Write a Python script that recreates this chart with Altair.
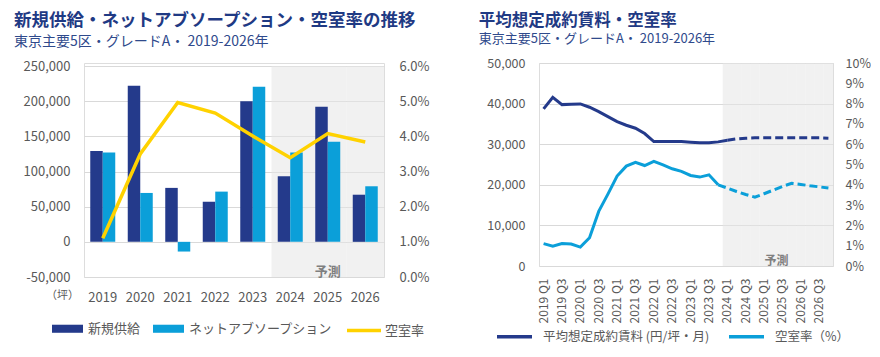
import altair as alt
import pandas as pd

FONT = "Noto Sans CJK JP"
NAVY = "#243a8b"
BLUE = "#0b9fd9"
YELLOW = "#ffd200"
LABEL = "#595959"
TITLE_C = "#1f3a84"
SUB_C = "#2f4a8c"
FC_FILL = "#e5e5e5"

# ---------------- left chart data ----------------
years = ["2019", "2020", "2021", "2022", "2023", "2024", "2025", "2026"]
supply = [129000, 222000, 76700, 57000, 200000, 93300, 192000, 67000]
absorption = [127000, 69500, -13800, 71400, 220500, 127000, 142400, 79000]
vacancy_year = [1.1, 3.5, 4.96, 4.66, 4.01, 3.39, 4.08, 3.84]
forecast_years = ["2024", "2025", "2026"]
left_series = ["新規供給", "ネットアブソープション", "空室率"]
left_ticks = [-50000, 0, 50000, 100000, 150000, 200000, 250000]
left_pct_ticks = [0, 1, 2, 3, 4, 5, 6]

# ---------------- right chart data ----------------
quarters = [f"{y} Q{q}" for y in years for q in (1, 2, 3, 4)]
rent = [38700, 41560, 39750, 39840, 39920, 39100, 38030, 36800,
        35570, 34670, 33930, 32620, 30660, 30660, 30660, 30660,
        30490, 30330, 30330, 30570, 30980, 31310, 31480, 31560,
        31560, 31560, 31560, 31560, 31560, 31560, 31560, 31480]
vacancy_q = [1.10, 0.98, 1.11, 1.08, 0.93, 1.39, 2.69, 3.54,
             4.43, 4.92, 5.11, 4.95, 5.15, 4.98, 4.79, 4.66,
             4.46, 4.38, 4.49, 4.00, 3.84, 3.67, 3.52, 3.39,
             3.56, 3.74, 3.92, 4.07, 4.02, 3.95, 3.90, 3.84]
rent_actual_end = "2024 Q1"
vac_actual_end = "2023 Q4"
forecast_quarters = quarters[20:]
right_series = ["平均想定成約賃料 (円/坪・月)", "空室率（%）"]
right_ticks = [0, 10000, 20000, 30000, 40000, 50000]
right_pct_ticks = list(range(0, 11))
shown_quarters = [q for q in quarters if q.endswith("Q1") or q.endswith("Q3")]

# ---------------- left chart ----------------
LH = 214  # left panel height; its scale range starts 3px below the top
bar_df = pd.DataFrame({
    "year": years * 2,
    "series": [left_series[0]] * len(years) + [left_series[1]] * len(years),
    "value": supply + absorption,
})
vac_df = pd.DataFrame({"year": years, "rate": vacancy_year,
                       "series": [left_series[2]] * len(years)})
fc_df = pd.DataFrame({"year": forecast_years,
                      "lo": [left_ticks[0]] * len(forecast_years),
                      "hi": [left_ticks[-1]] * len(forecast_years)})
lbl_df = pd.DataFrame({"year": ["2025"], "v": [-42500], "t": ["予測"]})

x_left = alt.X("year:N",
               scale=alt.Scale(domain=years, paddingInner=0, paddingOuter=0),
               axis=alt.Axis(title=None, labelAngle=0, ticks=False, domain=False,
                             labelFontSize=13, labelColor=LABEL, labelFont=FONT,
                             labelPadding=14))
y_left_scale = alt.Scale(domain=[left_ticks[0], left_ticks[-1]], nice=False,
                         range=[LH, 3])
y_left_axis = alt.Axis(title="（坪）", titleAngle=0, titleX=-22, titleY=232,
                       titleFontSize=11, titleFontWeight="normal", titleColor=LABEL,
                       titleFont=FONT, titleAlign="center", titleBaseline="middle",
                       values=left_ticks, ticks=False, domain=False,
                       labelExpr="replace(format(datum.value, ','), '\u2212', '-')",
                       labelFontSize=13, labelColor=LABEL, labelFont=FONT,
                       labelPadding=14, gridColor="#d9d9d9")

legend_bars = alt.Legend(
    orient="none", legendX=-32, legendY=250, direction="horizontal", title=None,
    symbolType="M-1,-0.26H1V0.26H-1Z", symbolSize=961, symbolStrokeWidth=0,
    labelFontSize=13, labelColor=LABEL, labelFont=FONT, labelOffset=5,
    columnPadding=12, labelLimit=400,
)
legend_line = alt.Legend(
    orient="none", legendX=261, legendY=248.5, direction="horizontal", title=None,
    symbolType="stroke", symbolSize=1156, symbolStrokeWidth=3.5,
    labelFontSize=13, labelColor=LABEL, labelFont=FONT, labelOffset=2,
    labelLimit=400,
)

grey_left = alt.Chart(fc_df).mark_bar(color=FC_FILL, opacity=0.55).encode(
    x=x_left, y=alt.Y("lo:Q", scale=y_left_scale, axis=y_left_axis), y2="hi:Q")

bars = alt.Chart(bar_df).mark_bar().encode(
    x=x_left,
    xOffset=alt.XOffset("series:N", sort=left_series[:2],
                        scale=alt.Scale(domain=left_series[:2], paddingInner=0,
                                        paddingOuter=0.5)),
    y=alt.Y("value:Q", scale=y_left_scale, axis=y_left_axis),
    color=alt.Color("series:N",
                    scale=alt.Scale(domain=left_series[:2], range=[NAVY, BLUE]),
                    legend=legend_bars),
)

txt_left = alt.Chart(lbl_df).mark_text(font=FONT, fontSize=13, fontWeight="bold",
                                       color="#7f7f7f").encode(
    x=x_left, y=alt.Y("v:Q", scale=y_left_scale, axis=y_left_axis), text="t:N")

line_left = alt.Chart(vac_df).mark_line(strokeWidth=3.5).encode(
    x=x_left,
    y=alt.Y("rate:Q", scale=alt.Scale(domain=[0, 6], nice=False, range=[LH, 3]),
            axis=alt.Axis(title=None, orient="right", values=left_pct_ticks,
                          labelExpr="format(datum.value, '.1f') + '%'",
                          grid=False, ticks=False, domain=False, labelFontSize=13,
                          labelColor=LABEL, labelFont=FONT, labelPadding=15)),
    stroke=alt.Stroke("series:N",
                      scale=alt.Scale(domain=[left_series[2]], range=[YELLOW]),
                      legend=legend_line),
)

left = alt.layer(alt.layer(grey_left, bars, txt_left), line_left).resolve_scale(
    y="independent"
).properties(
    width=300, height=LH,
    title=alt.TitleParams(
        text="新規供給・ネットアブソープション・空室率の推移",
        subtitle="東京主要5区・グレードA・ 2019-2026年",
        anchor="start", dx=-9, font=FONT, fontSize=17.5, fontWeight="bold",
        color=TITLE_C, subtitleFont=FONT, subtitleFontSize=14,
        subtitleColor=SUB_C, subtitlePadding=6, offset=11),
)

# ---------------- right chart ----------------
ai_r = quarters.index(rent_actual_end)
ai_v = quarters.index(vac_actual_end)
rent_solid = pd.DataFrame({"quarter": quarters[:ai_r + 1], "v": rent[:ai_r + 1],
                           "series": right_series[0]})
rent_dash = pd.DataFrame({"quarter": quarters[ai_r:], "v": rent[ai_r:],
                          "series": right_series[0]})
vac_solid = pd.DataFrame({"quarter": quarters[:ai_v + 1], "v": vacancy_q[:ai_v + 1],
                          "series": right_series[1]})
vac_dash = pd.DataFrame({"quarter": quarters[ai_v:], "v": vacancy_q[ai_v:],
                         "series": right_series[1]})
fcq_df = pd.DataFrame({"quarter": forecast_quarters,
                       "lo": [right_ticks[0]] * len(forecast_quarters),
                       "hi": [right_ticks[-1]] * len(forecast_quarters)})
lblq_df = pd.DataFrame({"quarter": ["2025 Q3"], "v": [1200], "t": ["予測"]})

x_right = alt.X("quarter:N",
                scale=alt.Scale(domain=quarters, paddingInner=0, paddingOuter=0),
                axis=alt.Axis(title=None, labelAngle=-90, values=shown_quarters,
                              ticks=False, domain=False, labelFontSize=12,
                              labelColor=LABEL, labelFont=FONT, labelPadding=12,
                              labelAlign="right", labelBaseline="middle"))
y_r_scale = alt.Scale(domain=[right_ticks[0], right_ticks[-1]], nice=False)
y_r_axis = alt.Axis(title=None, values=right_ticks,
                    labelExpr="format(datum.value, ',')", ticks=False,
                    domain=False, labelFontSize=12.5, labelColor=LABEL,
                    labelFont=FONT, labelPadding=14, gridColor="#d9d9d9")
y_v_scale = alt.Scale(domain=[0, 10], nice=False)
y_v_axis = alt.Axis(title=None, orient="right", values=right_pct_ticks,
                    labelExpr="datum.value + '%'", grid=False, ticks=False,
                    domain=False, labelFontSize=12.5, labelColor=LABEL,
                    labelFont=FONT, labelPadding=12)
color_r = alt.Color(
    "series:N", scale=alt.Scale(domain=right_series, range=[NAVY, BLUE]),
    legend=alt.Legend(orient="none", legendX=-44, legendY=254, direction="horizontal",
                      title=None, symbolType="stroke", symbolSize=1225,
                      symbolStrokeWidth=3.5, labelFontSize=12.5, labelColor=LABEL,
                      labelFont=FONT, labelOffset=9, columnPadding=12,
                      labelLimit=400))

grey_right = alt.Chart(fcq_df).mark_bar(color=FC_FILL, opacity=0.55).encode(
    x=x_right, y=alt.Y("lo:Q", scale=y_r_scale, axis=y_r_axis), y2="hi:Q")
r1 = alt.Chart(rent_solid).mark_line(strokeWidth=3).encode(
    x=x_right, y=alt.Y("v:Q", scale=y_r_scale, axis=y_r_axis), color=color_r)
r2 = alt.Chart(rent_dash).mark_line(strokeWidth=3, strokeDash=[8, 4]).encode(
    x=x_right, y=alt.Y("v:Q", scale=y_r_scale, axis=y_r_axis), color=color_r)
txt_right = alt.Chart(lblq_df).mark_text(font=FONT, fontSize=12, fontWeight="bold",
                                         color="#7f7f7f", dx=-6).encode(
    x=x_right, y=alt.Y("v:Q", scale=y_r_scale, axis=y_r_axis), text="t:N")
v1 = alt.Chart(vac_solid).mark_line(strokeWidth=3).encode(
    x=x_right, y=alt.Y("v:Q", scale=y_v_scale, axis=y_v_axis), color=color_r)
v2 = alt.Chart(vac_dash).mark_line(strokeWidth=3, strokeDash=[8, 4]).encode(
    x=x_right, y=alt.Y("v:Q", scale=y_v_scale, axis=y_v_axis), color=color_r)

right = alt.layer(alt.layer(grey_right, r1, r2, txt_right),
                  alt.layer(v1, v2)).resolve_scale(y="independent").properties(
    width=294, height=203,
    title=alt.TitleParams(
        text="平均想定成約賃料・空室率",
        subtitle="東京主要5区・グレードA・ 2019-2026年",
        anchor="start", dx=-8, font=FONT, fontSize=16.5, fontWeight="bold",
        color=TITLE_C, subtitleFont=FONT, subtitleFontSize=13,
        subtitleColor=SUB_C, subtitlePadding=4, offset=11),
)

chart = alt.hconcat(left, right, spacing=48).resolve_scale(
    color="independent", stroke="independent"
).resolve_legend(
    color="independent", stroke="independent"
).properties(
    padding={"left": 5, "top": 3, "right": 0, "bottom": 0}
).configure_view(stroke=None).configure(font=FONT)

chart.save("out.html", embed_options={"renderer": "svg", "actions": False})
